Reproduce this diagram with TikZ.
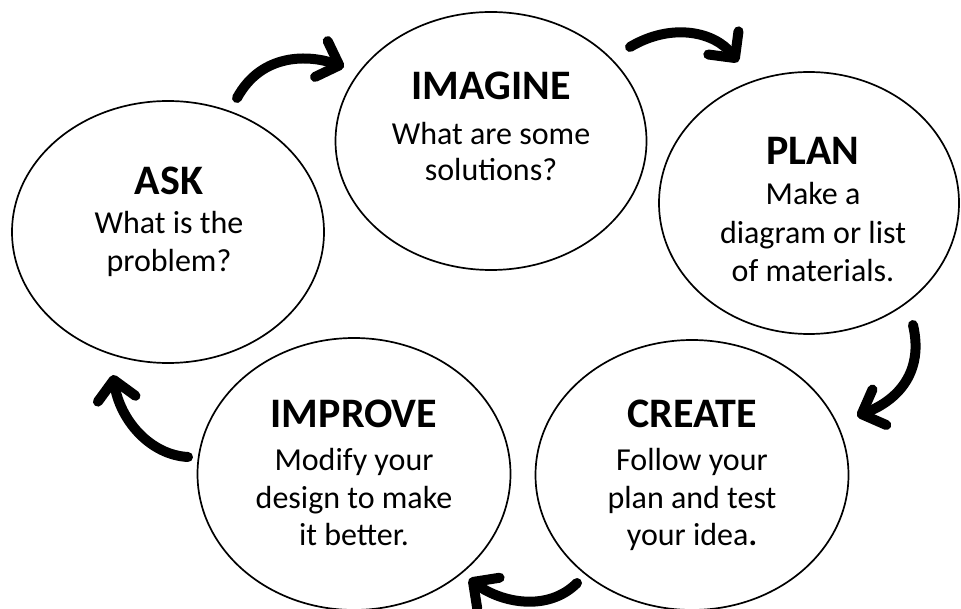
\documentclass[tikz,border=0pt]{standalone}
\usepackage{fontspec}
\setmainfont{Carlito}
\usetikzlibrary{shapes.geometric,arrows.meta}
\tikzset{
  stage/.style={ellipse, draw=black, line width=1.7pt, inner sep=0pt, fill=white},
  ttl/.style={anchor=base, inner sep=0pt, font=\fontsize{42}{42}\selectfont\bfseries},
  body/.style={anchor=base, inner sep=0pt, font=\fontsize{32}{38}\selectfont},
  cyc/.style={line width=10pt, line cap=round, black,
    -{Straight Barb[round, length=19pt, width=38pt]}}
}
\begin{document}
\begin{tikzpicture}[x=1pt,y=-1pt]
\useasboundingbox[fill=white] (0,0) rectangle (961,609);
% stages
\node[stage, minimum width=312pt, minimum height=262pt] (ask) at (168,232) {};
\node[stage, minimum width=311pt, minimum height=258pt] (imagine) at (491,141) {};
\node[stage, minimum width=300pt, minimum height=262pt] (plan) at (809,203) {};
\node[stage, minimum width=313pt, minimum height=270pt] (create) at (692,475) {};
\node[stage, minimum width=313pt, minimum height=272pt] (improve) at (354,474) {};
% texts
\node[ttl] (askt) at (169,195) {ASK};
\node[body] (ask1) at (169,234) {What is the};
\node[body] (ask2) at (169,272) {problem?};
\node[ttl] (imaginet) at (491,100) {IMAGINE};
\node[body] (imagine1) at (491,145) {What are some};
\node[body] (imagine2) at (491,181) {solutions?};
\node[ttl] (plant) at (813,165) {PLAN};
\node[body] (plan1) at (813,205) {Make a};
\node[body] (plan2) at (813,244) {diagram or list};
\node[body] (plan3) at (813,282) {of materials.};
\node[ttl] (createt) at (692,427) {CREATE};
\node[body] (create1) at (692,470) {Follow your};
\node[body] (create2) at (692,508) {plan and test};
\node[body] (create3) at (692,545) {your idea\textbf{.}};
\node[ttl] (improvet) at (354,427) {IMPROVE};
\node[body] (improve1) at (354,470) {Modify your};
\node[body] (improve2) at (354,508) {design to make};
\node[body] (improve3) at (354,545) {it better.};
% arrow ends
\coordinate (a1s) at (237,98);   \coordinate (a1e) at (344,67);
\coordinate (a2s) at (630,47);   \coordinate (a2e) at (738,62);
\coordinate (a3s) at (913,325);  \coordinate (a3e) at (857,416);
\coordinate (a4s) at (577,583);  \coordinate (a4e) at (469,579);
\coordinate (a5s) at (188,457);  \coordinate (a5e) at (113,375);
\draw[cyc] (a1s) .. controls (262,52) and (310,55) .. (a1e);
\draw[cyc] (a2s) .. controls (672,22) and (715,32) .. (a2e);
\draw[cyc] (a3s) .. controls (924,372) and (898,400) .. (a3e);
\draw[cyc] (a4s) .. controls (548,612) and (502,603) .. (a4e);
\draw[cyc] (a5s) .. controls (150,455) and (120,420) .. (a5e);
\end{tikzpicture}
\end{document}
